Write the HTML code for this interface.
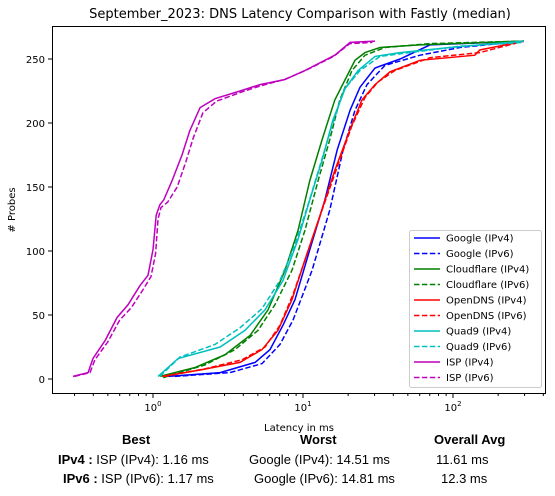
<!DOCTYPE html>
<html><head><meta charset="utf-8"><style>
body{margin:0;background:#fff;font-family:"Liberation Sans","DejaVu Sans",sans-serif}
#w{position:relative;width:555px;height:496px}
.t{position:absolute;font-size:13px;color:#000;white-space:nowrap}
svg text{font-family:"DejaVu Sans","Liberation Sans",sans-serif}
</style></head><body>
<div id="w">
<svg id="s" width="555" height="440" style="position:absolute;left:0;top:0"></svg>
<div class="t" style="left:122px;top:432px;font-weight:bold">Best</div>
<div class="t" style="left:300px;top:432px;font-weight:bold">Worst</div>
<div class="t" style="left:434px;top:432px;font-weight:bold">Overall Avg</div>
<div class="t" style="left:58px;top:452px"><b>IPv4 :</b> ISP (IPv4): 1.16 ms</div>
<div class="t" style="left:249px;top:452px">Google (IPv4): 14.51 ms</div>
<div class="t" style="left:436px;top:452px">11.61 ms</div>
<div class="t" style="left:63px;top:471px"><b>IPv6 :</b> ISP (IPv6): 1.17 ms</div>
<div class="t" style="left:254px;top:471px">Google (IPv6): 14.81 ms</div>
<div class="t" style="left:441px;top:471px">12.3 ms</div>
</div>
<script>
const seriesNames=["Google (IPv4)","Google (IPv6)","Cloudflare (IPv4)","Cloudflare (IPv6)","OpenDNS (IPv4)","OpenDNS (IPv6)","Quad9 (IPv4)","Quad9 (IPv6)","ISP (IPv4)","ISP (IPv6)"];
const googleV4Lat=[1.26,2.8,4.79,6.03,7.36,8.85,11.1,14.0,16.9,20.6,24.0,30.2,44.3,70.3,297];
const googleV4Cnt=[2,5,13,23,42,62,101,140,179,210,228,243,250,261,264];
const googleV6Lat=[1.40,3.26,5.33,7.03,8.58,11.5,15.1,18.5,22.2,26.7,35.2,60.3,111,297];
const googleV6Cnt=[2,5,12,27,46,85,132,179,210,230,245,253,259,264];
const cfV4Lat=[1.11,1.91,3.02,4.43,5.84,7.59,9.26,11.1,13.4,16.3,19.1,22.2,25.9,32.6,60.3,297];
const cfV4Cnt=[2,9,19,34,54,85,116,155,187,218,234,249,255,259,261,264];
const cfV6Lat=[1.17,2.22,3.52,5.01,6.50,8.45,10.3,12.6,15.1,17.6,21.2,25.9,35.2,70.3,297];
const cfV6Cnt=[1,11,23,38,58,85,116,155,187,218,241,253,259,262,264];
const odV4Lat=[1.15,2.06,3.80,5.33,6.81,8.45,10.3,13.0,16.3,20.6,24.7,30.2,38.0,60.3,140,151,297];
const odV4Cnt=[2,7,13,23,38,62,93,128,163,195,218,230,240,249,253,257,264];
const odV6Lat=[1.20,2.22,3.92,5.58,7.03,8.58,10.6,13.4,17.1,21.2,25.9,31.6,41.0,70.3,151,297];
const odV6Cnt=[2,8,15,25,42,66,97,132,167,198,220,232,241,251,255,264];
const q9V4Lat=[1.08,1.47,2.80,4.10,5.58,7.36,9.26,11.1,13.4,15.8,19.1,23.3,30.2,44.3,95.5,297];
const q9V4Cnt=[2,16,25,38,54,77,109,140,171,202,227,241,252,255,259,264];
const q9V6Lat=[1.11,1.51,2.59,3.80,5.33,7.03,8.85,10.8,13.0,15.6,18.8,24.0,32.6,51.7,111,297];
const q9V6Cnt=[2,17,27,40,55,77,105,136,167,198,226,241,252,255,260,263];
const ispV4Lat=[0.293,0.369,0.398,0.479,0.575,0.681,0.819,0.926,1.0,1.05,1.11,1.18,1.34,1.56,1.76,2.06,2.59,3.80,5.17,7.59,10.3,16.3,20.6,30.2];
const ispV4Cnt=[2,5,16,30,48,58,73,81,101,128,136,140,155,175,194,212,219,225,230,234,241,253,263,264];
const ispV6Lat=[0.30,0.38,0.41,0.50,0.60,0.72,0.86,0.97,1.04,1.08,1.13,1.25,1.45,1.66,1.85,2.15,2.65,3.85,5.2,7.5,10.4,16.0,20.5,29.0];
const ispV6Cnt=[2,5,15,29,46,56,70,80,98,125,134,138,150,170,188,208,217,224,229,234,241,252,262,263];
const yTicks=[0,50,100,150,200,250];
const xTickExp=[0,1,2];

const lats=[googleV4Lat,googleV6Lat,cfV4Lat,cfV6Lat,odV4Lat,odV6Lat,q9V4Lat,q9V6Lat,ispV4Lat,ispV6Lat];
const cnts=[googleV4Cnt,googleV6Cnt,cfV4Cnt,cfV6Cnt,odV4Cnt,odV6Cnt,q9V4Cnt,q9V6Cnt,ispV4Cnt,ispV6Cnt];
const colors=["#0000ff","#0000ff","#008000","#008000","#ff0000","#ff0000","#00bfbf","#00bfbf","#bf00bf","#bf00bf"];
const L=52,R=546,T=26,B=394;
const X=v=>153+150*Math.log10(v);
const Y=v=>379-1.28*v;
const s=document.getElementById('s');
const NS="http://www.w3.org/2000/svg";
function mk(tag,at,parent){const e=document.createElementNS(NS,tag);for(const k in at)e.setAttribute(k,at[k]);(parent||s).appendChild(e);return e;}
let tt=mk('text',{x:300,y:18,'text-anchor':'middle','font-size':13});tt.textContent="September_2023: DNS Latency Comparison with Fastly (median)";


const cp=mk('clipPath',{id:'cp'});mk('rect',{x:L,y:T,width:R-L,height:B-T},cp);
for(let i=0;i<lats.length;i++){
  const pts=lats[i].map((v,j)=>X(v).toFixed(1)+","+Y(cnts[i][j]).toFixed(1)).join(" ");
  const pl=mk('polyline',{points:pts,fill:'none',stroke:colors[i],'stroke-width':1.5,'clip-path':'url(#cp)','stroke-dasharray':i%2?'5.5,2.4':'none'});
  
  
}
const fr=mk('rect',{x:L+.5,y:T+.5,width:R-L-1,height:B-T-1,fill:'none',stroke:'#000','stroke-width':1});


yTicks.forEach(v=>{const y=Y(v);mk('line',{x1:L-4,x2:L,y1:y,y2:y,stroke:'#000'});
  const t=mk('text',{x:L-7,y:y+4,'text-anchor':'end','font-size':10});t.textContent=v;
  
  });
xTickExp.forEach(e=>{const x=X(Math.pow(10,e));mk('line',{x1:x,x2:x,y1:B,y2:B+4,stroke:'#000'});
  const t=mk('text',{x:x,y:B+17,'text-anchor':'middle','font-size':10});t.innerHTML='10<tspan dy="-5" font-size="7">'+e+'</tspan>';
  
  
  for(let m=2;m<10;m++){const xm=X(m*Math.pow(10,e));if(xm<R)mk('line',{x1:xm,x2:xm,y1:B,y2:B+2,stroke:'#000'});}});
for(let m=3;m<10;m++){const xm=X(m/10);if(xm>L)mk('line',{x1:xm,x2:xm,y1:B,y2:B+2,stroke:'#000'});}
let xl=mk('text',{x:299,y:431,'text-anchor':'middle','font-size':10});xl.textContent="Latency in ms";


let yl=mk('text',{x:15,y:210,'text-anchor':'middle','font-size':10,transform:'rotate(-90 15 210)'});yl.textContent="# Probes";


const lg=mk('g',{});


mk('rect',{x:409.5,y:230.5,width:132,height:157,fill:'#fff',stroke:'#ccc',rx:2},lg);
seriesNames.forEach((n,i)=>{const y=238+15.5*i;
  mk('line',{x1:414,x2:440,y1:y,y2:y,stroke:colors[i],'stroke-width':1.5,'stroke-dasharray':i%2?'5.5,2.4':'none'},lg);
  const t=mk('text',{x:446,y:y+3.5,'font-size':10},lg);t.textContent=n;
  
  });
</script>
</body></html>
